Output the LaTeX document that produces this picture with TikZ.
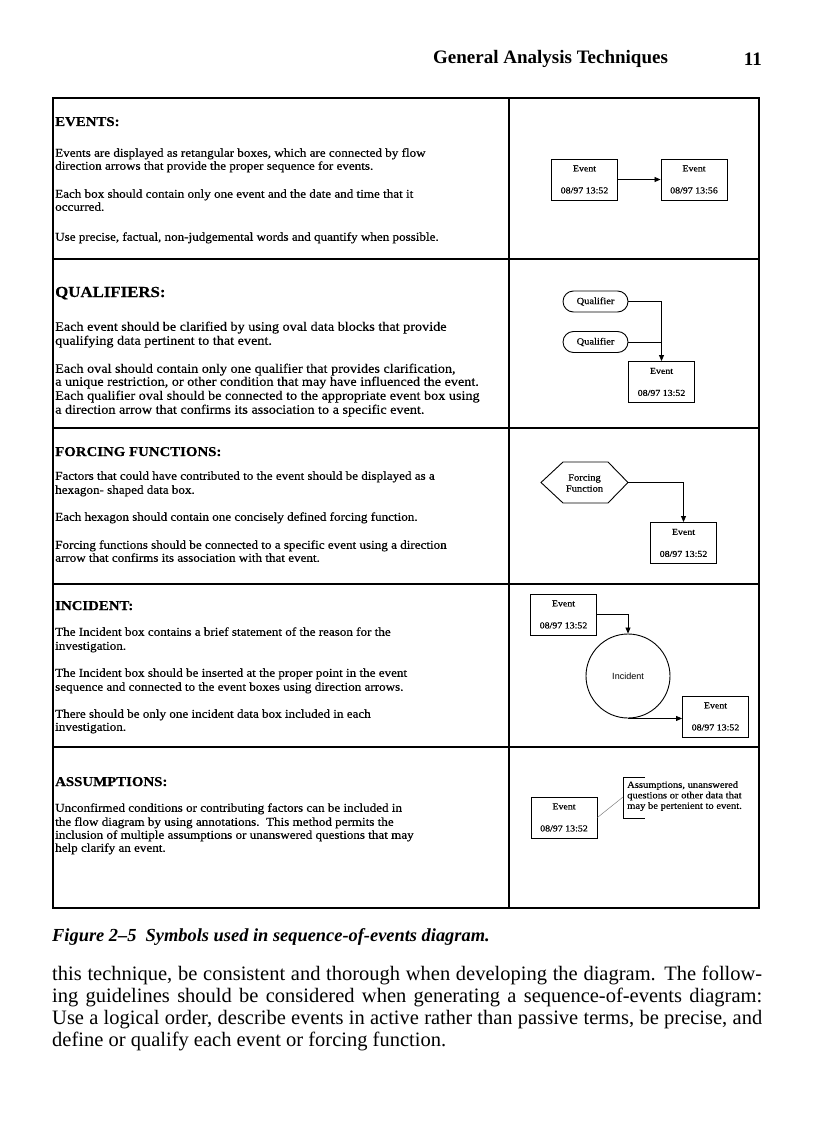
\documentclass[tikz,border=0pt]{standalone}
\usepackage{fontspec}
\setmainfont{Liberation Serif}
\newfontfamily\tabfont[FakeStretch=1.1,FakeBold=0.4]{Liberation Serif}
\newfontfamily\sansf{Liberation Sans}
\usetikzlibrary{arrows.meta,shapes.misc}
\begin{document}
\begin{tikzpicture}[x=1pt,y=-1pt,
  txt/.style={anchor=west,inner sep=0pt,text height=8pt,text depth=2.5pt,font=\tabfont\fontsize{11.9}{13}\selectfont},
  txtq/.style={txt,font=\tabfont\fontsize{12.9}{14}\selectfont},
  hd/.style={anchor=west,inner sep=0pt,text height=10pt,text depth=0pt,font=\tabfont\fontsize{13.5}{15}\selectfont\bfseries},
  grid/.style={line width=1.1pt},
  evbox/.style={draw,line width=0.9pt,minimum width=66pt,minimum height=41pt,inner sep=0pt,align=center,font=\tabfont\fontsize{9}{9}\selectfont},
  qual/.style={draw,line width=0.9pt,rounded rectangle,minimum width=65pt,minimum height=21pt,inner sep=0pt,font=\tabfont\fontsize{9.5}{9.5}\selectfont},
  conn/.style={line width=0.8pt},
  arr/.style={line width=0.8pt,-{Triangle[length=6pt,width=5pt]}},
  body/.style={anchor=west,inner sep=0pt,text height=13pt,text depth=4pt,font=\fontsize{20.5}{22}\selectfont}]
\useasboundingbox (0,0) rectangle (816,1123);

% header
\node[anchor=west,inner sep=0pt,font=\fontsize{19}{21}\selectfont\bfseries] (hdr) at (433,59) {General Analysis Techniques};
\node[anchor=east,inner sep=0pt,font=\fontsize{19}{21}\selectfont\bfseries] (pg) at (762,59) {11};

% table frame
\coordinate (tl) at (53,98);
\coordinate (br) at (759,908);
\draw[grid] (tl) rectangle (br);
\draw[grid] (509,98) -- (509,908);
\foreach \yy in {259,428,584,747} \draw[grid] (53,\yy) -- (759,\yy);

% headings
\node[hd] (h1) at (55,121) {EVENTS:};
\node[hd,font=\tabfont\fontsize{15.3}{17}\selectfont\bfseries] (h2) at (55,292) {QUALIFIERS:};
\node[hd] (h3) at (55,451) {FORCING FUNCTIONS:};
\node[hd] (h4) at (55,605) {INCIDENT:};
\node[hd] (h5) at (55,781) {ASSUMPTIONS:};

% text lines
\foreach \yy/\tx in {
 154/{Events are displayed as retangular boxes, which are connected by flow},
 167/{direction arrows that provide the proper sequence for events.},
 195/{Each box should contain only one event and the date and time that it},
 208/{occurred.},
 238/{Use precise, factual, non-judgemental words and quantify when possible.},
 477/{Factors that could have contributed to the event should be displayed as a},
 491/{hexagon- shaped data box.},
 518/{Each hexagon should contain one concisely defined forcing function.},
 546/{Forcing functions should be connected to a specific event using a direction},
 559/{arrow that confirms its association with that event.},
 633/{The Incident box contains a brief statement of the reason for the},
 647/{investigation.},
 674/{The Incident box should be inserted at the proper point in the event},
 688/{sequence and connected to the event boxes using direction arrows.},
 715/{There should be only one incident data box included in each},
 728/{investigation.},
 809/{Unconfirmed conditions or contributing factors can be included in},
 823/{the flow diagram by using annotations.\ \ This method permits the},
 836/{inclusion of multiple assumptions or unanswered questions that may},
 849/{help clarify an event.}}
 \node[txt] (t\yy) at (55,\yy) {\tx};
\foreach \yy/\tx in {
 328/{Each event should be clarified by using oval data blocks that provide},
 342/{qualifying data pertinent to that event.},
 370/{Each oval should contain only one qualifier that provides clarification,},
 383/{a unique restriction, or other condition that may have influenced the event.},
 397/{Each qualifier oval should be connected to the appropriate event box using},
 411/{a direction arrow that confirms its association to a specific event.}}
 \node[txtq] (t\yy) at (55,\yy) {\tx};

% ---- Events symbols
\node[evbox] (e1a) at (584.5,179.5) {Event\\[13pt]08/97 13:52};
\node[evbox] (e1b) at (694,179.5) {Event\\[13pt]08/97 13:56};
\draw[arr] (e1a.east) -- (e1b.west);

% ---- Qualifiers
\node[qual] (q1) at (595.5,301.5) {Qualifier};
\node[qual] (q2) at (595.5,342) {Qualifier};
\node[evbox] (e2) at (661.5,382) {Event\\[13pt]08/97 13:52};
\draw[arr] (q1.east) -| (e2.north);
\draw[conn] (q2.east) -- (q2.east -| e2.north);

% ---- Forcing function
\draw[line width=0.9pt] (541,482.5) -- (563,462) -- (608,462) -- (628,482.5) -- (608,503) -- (563,503) -- cycle;
\coordinate (fftip) at (628,482.5);
\node[align=center,inner sep=0pt,font=\tabfont\fontsize{9.5}{11}\selectfont] (ff) at (584.5,483) {Forcing\\Function};
\node[evbox] (e3) at (683.5,543) {Event\\[13pt]08/97 13:52};
\draw[arr] (fftip) -| (e3.north);

% ---- Incident
\node[evbox] (e4a) at (563.5,614.5) {Event\\[13pt]08/97 13:52};
\node[draw,circle,line width=0.9pt,minimum size=84pt,inner sep=0pt,font=\sansf\fontsize{9}{9}\selectfont] (inc) at (628,676) {Incident};
\node[evbox] (e4b) at (715.5,716.5) {Event\\[13pt]08/97 13:52};
\draw[arr] (e4a.east) -| (inc.north);
\draw[arr] (inc.south) -- (inc.south -| e4b.west);

% ---- Assumptions
\node[evbox] (e5) at (564,817.5) {Event\\[13pt]08/97 13:52};
\coordinate (bt) at (645,777);
\coordinate (bb) at (645,818);
\coordinate (bm) at (623,797);
\draw[line width=0.9pt] (bt) -- (623,777) -- (623,818) -- (bb);
\node[anchor=north west,align=left,inner sep=0pt,font=\tabfont\fontsize{9.6}{10.5}\selectfont] (ann) at (627,781) {Assumptions, unanswered\\questions or other data that\\may be pertenient to event.};
\draw[line width=0.5pt,gray] (e5.east) -- (bm);

% caption
\node[anchor=west,inner sep=0pt,font=\fontsize{18.4}{20}\selectfont\bfseries\itshape] (cap) at (52,937) {Figure 2--5\ \ Symbols used in sequence-of-events diagram.};

% body
\node[body] (b1) at (52,976) {\makebox[710pt][s]{this technique, be consistent and thorough when developing the diagram. The follow-}};
\node[body] (b2) at (52,998) {\makebox[710pt][s]{ing guidelines should be considered when generating a sequence-of-events diagram:}};
\node[body] (b3) at (52,1020) {\makebox[710pt][s]{Use a logical order, describe events in active rather than passive terms, be precise, and}};
\node[body] (b4) at (52,1042) {define or qualify each event or forcing function.};
\end{tikzpicture}
\end{document}
